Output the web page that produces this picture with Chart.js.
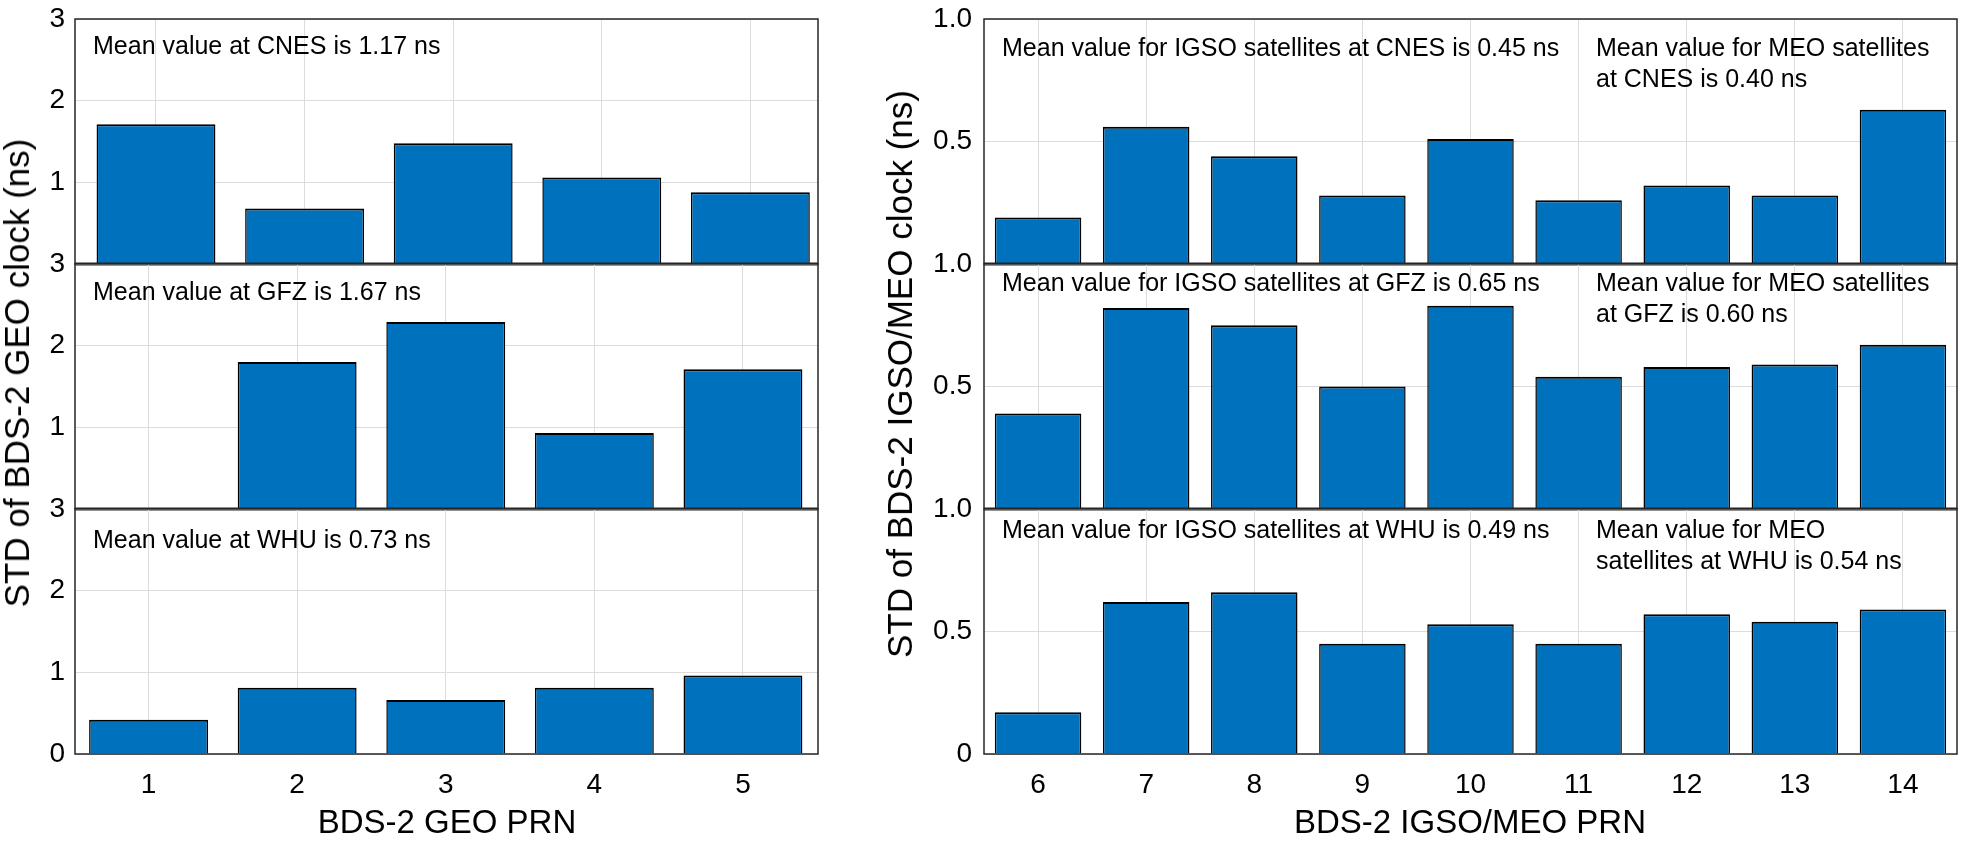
<!DOCTYPE html>
<html lang="en">
<head>
  <meta charset="UTF-8" />
  <title>STD of BDS-2 satellite clocks</title>
  <script src="https://cdn.jsdelivr.net/npm/chart.js"></script>
  <style>
    body {
      margin: 0;
      background: #fff;
      font-family: 'Liberation Sans', Arial, sans-serif;
    }

    #page {
      position: relative;
      width: 1961px;
      height: 845px;
      overflow: hidden;
    }

    canvas {
      position: absolute;
    }

    .axis-title {
      position: absolute;
      font-size: 33px;
      color: #000;
      white-space: nowrap;
      transform: translate(-50%, -50%);
    }

    .axis-title.vertical {
      font-size: 35px;
      transform: translate(-50%, -50%) rotate(-90deg);
    }
  </style>
</head>
<body>
  <div id="page">
    <canvas id="geo0"></canvas>
    <canvas id="geo1"></canvas>
    <canvas id="geo2"></canvas>
    <canvas id="im0"></canvas>
    <canvas id="im1"></canvas>
    <canvas id="im2"></canvas>

    <div class="axis-title vertical" style="left:17px; top:373px;">STD of BDS-2 GEO clock (ns)</div>
    <div class="axis-title vertical" style="left:900px; top:374px;">STD of BDS-2 IGSO/MEO clock (ns)</div>
    <div class="axis-title" style="left:447px; top:822px;">BDS-2 GEO PRN</div>
    <div class="axis-title" style="left:1470px; top:822px;">BDS-2 IGSO/MEO PRN</div>
  </div>

  <script>
    // GEO satellites (left column)
    const geoPrn = [1, 2, 3, 4, 5];
    const geoCnes = [1.71, 0.68, 1.48, 1.06, 0.88];
    const geoGfz = [null, 1.80, 2.29, 0.93, 1.71];
    const geoWhu = [0.42, 0.81, 0.66, 0.81, 0.96];
    const geoTicks = [0, 1, 2, 3];

    // IGSO/MEO satellites (right column)
    const imPrn = [6, 7, 8, 9, 10, 11, 12, 13, 14];
    const imCnes = [0.19, 0.56, 0.44, 0.28, 0.51, 0.26, 0.32, 0.28, 0.63];
    const imGfz = [0.39, 0.82, 0.75, 0.50, 0.83, 0.54, 0.58, 0.59, 0.67];
    const imWhu = [0.17, 0.62, 0.66, 0.45, 0.53, 0.45, 0.57, 0.54, 0.59];
    const imTicks = [0, 0.5, 1];

    // panel notes
    const geoNotes = [
      'Mean value at CNES is 1.17 ns',
      'Mean value at GFZ is 1.67 ns',
      'Mean value at WHU is 0.73 ns'
    ];
    const igsoNotes = [
      'Mean value for IGSO satellites at CNES is 0.45 ns',
      'Mean value for IGSO satellites at GFZ is 0.65 ns',
      'Mean value for IGSO satellites at WHU is 0.49 ns'
    ];
    const meoNotes = [
      ['Mean value for MEO satellites', 'at CNES is 0.40 ns'],
      ['Mean value for MEO satellites', 'at GFZ is 0.60 ns'],
      ['Mean value for MEO', 'satellites at WHU is 0.54 ns']
    ];

    const FONT = "'Liberation Sans', Arial, sans-serif";
    Chart.defaults.font.family = FONT;
    Chart.defaults.color = '#000';

    const GRID = '#dcdcdc';
    const BAR = '#0072bd';
    const panelTops = [19, 264, 509];
    const panelH = 245;
    const padTop = 18, padBottom = 5, xAxisH = 70;

    // box round each plot area, thick line between stacked panels
    const frame = {
      id: 'frame',
      afterDraw(chart, args, opts) {
        const { ctx, chartArea: a } = chart;
        ctx.save();
        ctx.strokeStyle = '#262626';
        ctx.lineWidth = 1.5;
        ctx.strokeRect(a.left, a.top, a.right - a.left, a.bottom - a.top);
        if (!opts.last) {
          ctx.lineWidth = 3;
          ctx.beginPath();
          ctx.moveTo(a.left, a.bottom);
          ctx.lineTo(a.right, a.bottom);
          ctx.stroke();
        }
        ctx.restore();
      }
    };

    // text notes inside the panels
    const notes = {
      id: 'notes',
      afterDatasetsDraw(chart, args, opts) {
        const { ctx, chartArea: a } = chart;
        ctx.save();
        ctx.font = '25px ' + FONT;
        ctx.fillStyle = '#000';
        ctx.textBaseline = 'middle';
        (opts.items || []).forEach(it => {
          [].concat(it.text).forEach((t, i) => {
            ctx.fillText(t, a.left + it.dx, a.top + it.dy + i * 31);
          });
        });
        ctx.restore();
      }
    };

    function yScale(ticks, width, padding, fmt, last) {
      return {
        min: ticks[0],
        max: ticks[ticks.length - 1],
        afterBuildTicks: s => { s.ticks = ticks.map(v => ({ value: v })); },
        ticks: {
          font: { size: 28 },
          padding: padding,
          callback: v => (v === 0 && !last) ? '' : fmt(v)
        },
        grid: { color: GRID, lineWidth: 1, drawTicks: false },
        border: { display: false },
        afterFit: s => { s.width = width; s.paddingTop = 0; s.paddingBottom = 0; }
      };
    }

    function xCommon(last) {
      return {
        offset: false,
        grid: { offset: false, color: GRID, lineWidth: 1, drawTicks: false },
        border: { display: false },
        ticks: { display: last, font: { size: 28 }, padding: 14, maxRotation: 0, autoSkip: false },
        afterFit: s => { s.height = last ? xAxisH : 0; s.paddingLeft = 0; s.paddingRight = 0; }
      };
    }

    function makePanel(id, cfg) {
      const el = document.getElementById(id);
      el.width = cfg.width;
      el.height = padTop + panelH + (cfg.last ? xAxisH : padBottom);
      el.style.left = cfg.left + 'px';
      el.style.top = (cfg.top - padTop) + 'px';

      return new Chart(el, {
        type: 'bar',
        data: {
          labels: cfg.labels,
          datasets: [{
            data: cfg.values,
            backgroundColor: BAR,
            borderColor: '#000',
            borderWidth: { top: 2, left: 1.5, right: 1.5, bottom: 0 },
            borderSkipped: 'start',
            categoryPercentage: 1,
            barPercentage: 0.8
          }]
        },
        options: {
          responsive: false,
          animation: false,
          devicePixelRatio: 1,
          layout: { padding: { top: padTop, bottom: cfg.last ? 0 : padBottom, left: 0, right: cfg.padRight } },
          plugins: {
            legend: { display: false },
            tooltip: { enabled: false },
            frame: { last: cfg.last },
            notes: { items: cfg.notes }
          },
          scales: { x: cfg.x, y: cfg.y }
        },
        plugins: [frame, notes]
      });
    }

    // left column: GEO, linear x so the top panel can sit slightly shifted
    const geoSeries = [geoCnes, geoGfz, geoWhu];
    const geoRange = [[0.455, 5.455], [0.505, 5.505], [0.505, 5.505]];
    const geoNoteY = [28, 29, 32];

    geoSeries.forEach((vals, k) => {
      const last = k === geoSeries.length - 1;
      const x = Object.assign(xCommon(last), {
        type: 'linear',
        min: geoRange[k][0],
        max: geoRange[k][1],
        afterBuildTicks: s => { s.ticks = geoPrn.map(v => ({ value: v })); }
      });
      makePanel('geo' + k, {
        left: 0, width: 835, padRight: 17, top: panelTops[k], last,
        values: geoPrn.map((p, i) => ({ x: p, y: vals[i] })),
        x,
        y: yScale(geoTicks, 75, 10, v => String(v), last),
        notes: [{ text: geoNotes[k], dx: 18, dy: geoNoteY[k] }]
      });
    });

    // right column: IGSO/MEO
    const imSeries = [imCnes, imGfz, imWhu];
    const imNoteY = [30, 20, 22];

    imSeries.forEach((vals, k) => {
      const last = k === imSeries.length - 1;
      const x = Object.assign(xCommon(last), { type: 'category', offset: true });
      makePanel('im' + k, {
        left: 900, width: 1061, padRight: 4, top: panelTops[k], last,
        labels: imPrn.map(String),
        values: vals,
        x,
        y: yScale(imTicks, 84, 12, v => v === 0 ? '0' : v.toFixed(1), last),
        notes: [
          { text: igsoNotes[k], dx: 18, dy: imNoteY[k] },
          { text: meoNotes[k], dx: 612, dy: imNoteY[k] }
        ]
      });
    });
  </script>
</body>
</html>
